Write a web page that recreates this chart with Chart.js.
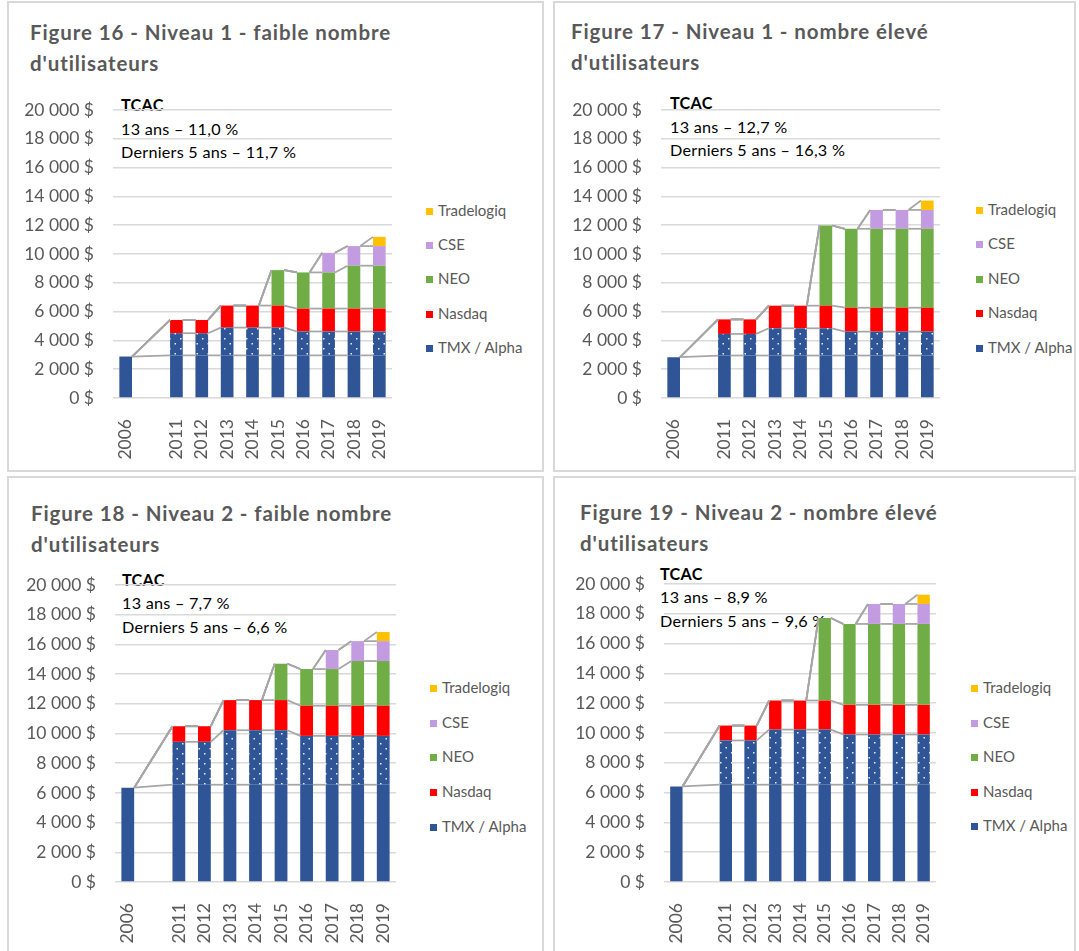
<!DOCTYPE html>
<html lang="fr">
<head>
<meta charset="utf-8">
<title>Figures 16 à 19 - coûts des données de marché</title>
<script src="https://cdn.jsdelivr.net/npm/chart.js@4.4.1/dist/chart.umd.min.js"></script>
<style>
    html, body { margin: 0; padding: 0; background: #ffffff; }
    body { position: relative; width: 1079px; height: 951px; overflow: hidden; font-family: Lato, "Open Sans", sans-serif; }
    .panel { position: absolute; box-sizing: border-box; border: 2px solid #d9d9d9; }
    .title { position: absolute; font-weight: bold; color: #595959; font-size: 20.5px; letter-spacing: 0.9px; line-height: 31px; white-space: nowrap; }
    .cagr { position: absolute; color: #000000; font-size: 16.2px; letter-spacing: 0.25px; line-height: 23.5px; white-space: nowrap; }
    .cagr b { font-weight: bold; }
    .legend-item { position: absolute; color: #595959; font-size: 15px; line-height: 18px; white-space: nowrap; }
    .legend-item .box { display: inline-block; width: 7px; height: 7px; margin-right: 5px; vertical-align: 1px; }
    canvas { position: absolute; }
</style>
</head>
<body>
<script>
// --- categories (empty slot between 2006 and 2011, as in the source) ---
const years = ['2006', '', '2011', '2012', '2013', '2014', '2015', '2016', '2017', '2018', '2019'];
const seriesNames = ['TMX / Alpha', 'Nasdaq', 'NEO', 'CSE', 'Tradelogiq'];
const yMax = 20000;
const yStep = 2000;

// --- Figure 16 : Niveau 1, faible nombre d'utilisateurs ($) ---
const n1LowBase    = [2880, null, 2960, 2960, 2960, 2960, 2960, 2960, 2960, 2960, 2960];
const n1LowTmx     = [null, null, 1540, 1540, 1930, 1930, 1930, 1660, 1660, 1660, 1660];
const n1LowNasdaq  = [0, null, 920, 920, 1530, 1530, 1530, 1590, 1590, 1590, 1590];
const n1LowNeo     = [0, null, 0, 0, 0, 0, 2460, 2510, 2510, 2980, 2980];
const n1LowCse     = [0, null, 0, 0, 0, 0, 0, 0, 1360, 1360, 1360];
const n1LowTrade   = [0, null, 0, 0, 0, 0, 0, 0, 0, 0, 640];

// --- Figure 17 : Niveau 1, nombre élevé d'utilisateurs ($) ---
const n1HighBase   = [2830, null, 2950, 2950, 2950, 2950, 2950, 2950, 2950, 2950, 2950];
const n1HighTmx    = [null, null, 1500, 1500, 1890, 1890, 1890, 1660, 1660, 1660, 1660];
const n1HighNasdaq = [0, null, 1010, 1010, 1570, 1570, 1570, 1660, 1660, 1660, 1660];
const n1HighNeo    = [0, null, 0, 0, 0, 0, 5570, 5480, 5480, 5480, 5480];
const n1HighCse    = [0, null, 0, 0, 0, 0, 0, 0, 1310, 1310, 1310];
const n1HighTrade  = [0, null, 0, 0, 0, 0, 0, 0, 0, 0, 650];

// --- Figure 18 : Niveau 2, faible nombre d'utilisateurs ($) ---
const n2LowBase    = [6350, null, 6550, 6550, 6550, 6550, 6550, 6550, 6550, 6550, 6550];
const n2LowTmx     = [null, null, 2890, 2890, 3670, 3670, 3670, 3290, 3290, 3290, 3290];
const n2LowNasdaq  = [0, null, 1050, 1050, 2030, 2030, 2030, 2030, 2030, 2030, 2030];
const n2LowNeo     = [0, null, 0, 0, 0, 0, 2450, 2470, 2470, 3010, 3010];
const n2LowCse     = [0, null, 0, 0, 0, 0, 0, 0, 1280, 1340, 1340];
const n2LowTrade   = [0, null, 0, 0, 0, 0, 0, 0, 0, 0, 610];

// --- Figure 19 : Niveau 2, nombre élevé d'utilisateurs ($) ---
const n2HighBase   = [6410, null, 6530, 6530, 6530, 6530, 6530, 6530, 6530, 6530, 6530];
const n2HighTmx    = [null, null, 2970, 2970, 3700, 3700, 3700, 3370, 3370, 3370, 3370];
const n2HighNasdaq = [0, null, 1000, 1000, 1950, 1950, 1950, 1990, 1990, 1990, 1990];
const n2HighNeo    = [0, null, 0, 0, 0, 0, 5540, 5430, 5430, 5430, 5430];
const n2HighCse    = [0, null, 0, 0, 0, 0, 0, 0, 1340, 1340, 1340];
const n2HighTrade  = [0, null, 0, 0, 0, 0, 0, 0, 0, 0, 620];

const titles = [
    ['Figure 16 - Niveau 1 - faible nombre', "d'utilisateurs"],
    ['Figure 17 - Niveau 1 - nombre élevé', "d'utilisateurs"],
    ['Figure 18 - Niveau 2 - faible nombre', "d'utilisateurs"],
    ['Figure 19 - Niveau 2 - nombre élevé', "d'utilisateurs"]
];
const cagrLines = [
    ['13 ans – 11,0 %', 'Derniers 5 ans – 11,7 %'],
    ['13 ans – 12,7 %', 'Derniers 5 ans – 16,3 %'],
    ['13 ans – 7,7 %', 'Derniers 5 ans – 6,6 %'],
    ['13 ans – 8,9 %', 'Derniers 5 ans – 9,6 %']
];

// colours, bottom of stack first
const colors = { tmx: '#2f5597', nasdaq: '#ff0000', neo: '#70ad47', cse: '#c39be0', trade: '#ffc000' };

// page geometry of each panel (pixels)
const layouts = [
    { box: [7, 1, 537, 471],   plot: [113, 392, 110, 398], title: [30, 16.5],  cagr: [121, 93],    legend: [426, 210, 34.2] },
    { box: [553, 1, 523, 471], plot: [661, 940, 110, 398], title: [571, 15.5], cagr: [670, 91],    legend: [976, 209, 34.4] },
    { box: [7, 476, 537, 480], plot: [115, 396, 585, 882], title: [31, 498],   cagr: [122, 567.5], legend: [430, 687, 34.7] },
    { box: [553, 476, 523, 480], plot: [664, 936, 584, 882], title: [580, 497], cagr: [660, 561.5], legend: [971, 687, 34.6] }
];

const panels = [
    [n1LowBase, n1LowTmx, n1LowNasdaq, n1LowNeo, n1LowCse, n1LowTrade],
    [n1HighBase, n1HighTmx, n1HighNasdaq, n1HighNeo, n1HighCse, n1HighTrade],
    [n2LowBase, n2LowTmx, n2LowNasdaq, n2LowNeo, n2LowCse, n2LowTrade],
    [n2HighBase, n2HighTmx, n2HighNasdaq, n2HighNeo, n2HighCse, n2HighTrade]
];

// sparse white dots on blue, like the Excel pattern fill of the upper TMX block
function dotPattern() {
    const c = document.createElement('canvas');
    c.width = 11; c.height = 10;
    const g = c.getContext('2d');
    g.fillStyle = colors.tmx;
    g.fillRect(0, 0, 11, 10);
    g.fillStyle = 'rgba(255,255,255,0.9)';
    g.fillRect(2, 2, 1.5, 1.5);
    g.fillRect(7.5, 7, 1.5, 1.5);
    return g.createPattern(c, 'repeat');
}

function money(v) {
    return String(v).replace(/\B(?=(\d{3})+(?!\d))/g, ' ') + ' $';
}

// grey "series lines" joining the top of each stacked segment between neighbouring bars
const seriesLines = {
    id: 'seriesLines',
    afterDatasetsDraw(chart) {
        const ctx = chart.ctx;
        const yScale = chart.scales.y;
        const sets = chart.data.datasets;
        const ref = chart.getDatasetMeta(0).data;
        const idx = [];
        years.forEach((_, i) => { if (sets[0].data[i] !== null) idx.push(i); });

        ctx.save();
        ctx.strokeStyle = '#a6a6a6';
        ctx.lineWidth = 1.75;
        for (let k = 0; k < idx.length - 1; k++) {
            const a = idx[k], b = idx[k + 1];
            const xa = ref[a].x + ref[a].width / 2;
            const xb = ref[b].x - ref[b].width / 2;
            let sa = 0, sb = 0;
            sets.forEach(ds => {
                const va = ds.data[a], vb = ds.data[b];
                if (va !== null) sa += va;
                if (vb !== null) sb += vb;
                if (va === null || vb === null) return;
                ctx.beginPath();
                ctx.moveTo(xa, yScale.getPixelForValue(sa));
                ctx.lineTo(xb, yScale.getPixelForValue(sb));
                ctx.stroke();
            });
        }
        ctx.restore();
    }
};

function addText(cls, x, y, html) {
    const d = document.createElement('div');
    d.className = cls;
    d.style.left = x + 'px';
    d.style.top = y + 'px';
    d.innerHTML = html;
    document.body.appendChild(d);
}

const legendColors = [colors.trade, colors.cse, colors.neo, colors.nasdaq, colors.tmx];
const tickFont = { family: 'Lato', size: 17.5 };

panels.forEach((series, p) => {
    const L = layouts[p];

    const box = document.createElement('div');
    box.className = 'panel';
    box.style.left = L.box[0] + 'px';
    box.style.top = L.box[1] + 'px';
    box.style.width = L.box[2] + 'px';
    box.style.height = L.box[3] + 'px';
    document.body.appendChild(box);

    addText('title', L.title[0], L.title[1], titles[p].join('<br>'));
    addText('cagr', L.cagr[0], L.cagr[1], '<b>TCAC</b><br>' + cagrLines[p].join('<br>'));

    // legend, top entry first (reverse of the stack)
    seriesNames.slice().reverse().forEach((name, i) => {
        addText('legend-item', L.legend[0], L.legend[1] + i * L.legend[2] - 9,
            '<span class="box" style="background:' + legendColors[i] + '"></span>' + name);
    });

    // scales reserve (label half height + tick padding) around the plot; the layout
    // padding is a max() with that, so leave room bigger than it on top and right
    const yAxisW = 100, padTop = 34, padRight = 28, xAxisH = 70;
    const cx = L.plot[0] - yAxisW, cy = L.plot[2] - padTop;
    const cw = L.plot[1] - cx + padRight, ch = L.plot[3] - cy + xAxisH;
    const canvas = document.createElement('canvas');
    canvas.width = cw; canvas.height = ch;
    canvas.style.left = cx + 'px'; canvas.style.top = cy + 'px';
    canvas.style.width = cw + 'px'; canvas.style.height = ch + 'px';
    document.body.appendChild(canvas);

    const fills = [colors.tmx, dotPattern(), colors.nasdaq, colors.neo, colors.cse, colors.trade];
    const labels = ['TMX / Alpha', 'TMX / Alpha (hausse)', 'Nasdaq', 'NEO', 'CSE', 'Tradelogiq'];

    new Chart(canvas, {
        type: 'bar',
        data: {
            labels: years,
            datasets: series.map((data, i) => ({
                label: labels[i],
                data: data,
                backgroundColor: fills[i],
                borderWidth: 0,
                categoryPercentage: 1,
                barPercentage: 0.5
            }))
        },
        options: {
            responsive: false,
            animation: false,
            layout: { padding: { left: 0, right: padRight, top: padTop, bottom: 0 } },
            plugins: { legend: { display: false }, tooltip: { enabled: false } },
            scales: {
                x: {
                    stacked: true,
                    grid: { display: false },
                    border: { display: false },
                    ticks: { autoSkip: false, minRotation: 90, maxRotation: 90, padding: 13, color: '#595959', font: tickFont },
                    afterFit: s => { s.height = xAxisH; }
                },
                y: {
                    stacked: true,
                    min: 0,
                    max: yMax,
                    grid: { color: '#d9d9d9', lineWidth: 1.5, drawTicks: false },
                    border: { display: false },
                    ticks: { stepSize: yStep, padding: 19, color: '#595959', font: tickFont, callback: v => money(v) },
                    afterFit: s => { s.width = yAxisW; }
                }
            }
        },
        plugins: [seriesLines]
    });
});
</script>
</body>
</html>
